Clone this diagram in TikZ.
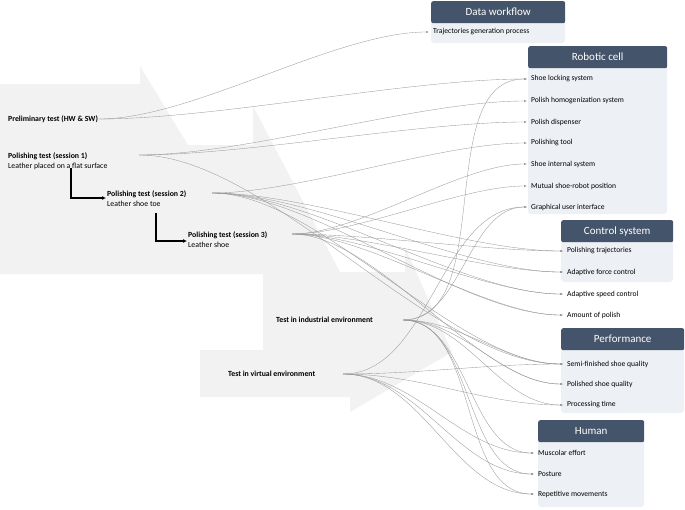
\documentclass[tikz,border=0pt]{standalone}
\usepackage{fontspec}
\setmainfont{Carlito}
\usetikzlibrary{arrows.meta}
\definecolor{slate}{HTML}{44546A}
\definecolor{pale}{HTML}{EDF0F5}
\definecolor{band}{HTML}{F2F2F2}
\tikzset{
  hdr/.style={fill=slate, rounded corners=2pt, text=white, font=\fontsize{11}{12}\selectfont, inner sep=0pt},
  body/.style={fill=pale, rounded corners=3pt},
  item/.style={anchor=west, font=\fontsize{7.6}{9}\selectfont, inner xsep=4pt, inner ysep=1pt},
  test/.style={anchor=west, align=left, font=\fontsize{7.8}{10}\selectfont, inner sep=1pt},
  link/.style={draw=gray!80, line width=0.35pt, -{Latex[length=3pt,width=2pt]}},
  nextstep/.style={draw=black, line width=1.2pt, -{Latex[length=4pt,width=4pt]}}
}
\begin{document}
\begin{tikzpicture}[x=1pt,y=-1pt]
\useasboundingbox (0,0) rectangle (685,509);
% grey process band
\fill[band] (0,84) -- (140,84) -- (140,66) -- (188,145) -- (253,145) -- (253,106)
  -- (340,272) -- (405,272) -- (405,247) -- (452,352) -- (350,412) -- (350,397)
  -- (200,397) -- (200,350) -- (263,350) -- (263,274) -- (0,274) -- cycle;

% boxes
\fill[body] (431,20) rectangle (565,43);
\node[hdr, minimum width=134pt, minimum height=22pt, anchor=north west] (hdw) at (431,1) {Data workflow};
\fill[body] (528,66) rectangle (667,214);
\node[hdr, minimum width=139pt, minimum height=22pt, anchor=north west] (hrc) at (528,46) {Robotic cell};
\fill[body] (561,240) rectangle (673,282);
\node[hdr, minimum width=112pt, minimum height=22pt, anchor=north west] (hcs) at (561,220) {Control system};
\fill[body] (561,348) rectangle (684,413);
\node[hdr, minimum width=123pt, minimum height=22pt, anchor=north west] (hpf) at (561,328) {Performance};
\fill[body] (538,440) rectangle (644,507);
\node[hdr, minimum width=106pt, minimum height=22pt, anchor=north west] (hhu) at (538,420) {Human};

% items
\node[item] (traj) at (429,32) {Trajectories generation process};
\node[item] (lock) at (527,79) {Shoe locking system};
\node[item] (homo) at (527,101) {Polish homogenization system};
\node[item] (disp) at (527,122) {Polish dispenser};
\node[item] (tool) at (527,143) {Polishing tool};
\node[item] (intl) at (527,164) {Shoe internal system};
\node[item] (mutu) at (527,186) {Mutual shoe-robot position};
\node[item] (gui)  at (527,207) {Graphical user interface};
\node[item] (ptra) at (563,251) {Polishing trajectories};
\node[item] (forc) at (563,272) {Adaptive force control};
\node[item] (sped) at (563,294) {Adaptive speed control};
\node[item] (amnt) at (563,315) {Amount of polish};
\node[item] (semi) at (563,364) {Semi-finished shoe quality};
\node[item] (polq) at (563,384) {Polished shoe quality};
\node[item] (proc) at (563,405) {Processing time};
\node[item] (musc) at (534,453) {Muscolar effort};
\node[item] (post) at (534,474) {Posture};
\node[item] (repe) at (534,494) {Repetitive movements};

% tests
\node[test] (pre) at (7,119) {\textbf{Preliminary test (HW \& SW)}};
\node[test] (s1) at (7,161) {\textbf{Polishing test (session 1)}\\Leather placed on a flat surface};
\node[test] (s2) at (106,199) {\textbf{Polishing test (session 2)}\\Leather shoe toe};
\node[test] (s3) at (187,240) {\textbf{Polishing test (session 3)}\\Leather shoe};
\node[test] (ind) at (275,320) {\textbf{Test in industrial environment}};
\node[test] (vir) at (227,374) {\textbf{Test in virtual environment}};
\coordinate (p1) at (139,155);
\coordinate (p2) at (212,193);
\coordinate (p3) at (292,234);
\coordinate (pi) at (403,320);
\coordinate (pv) at (343,374);

\draw[nextstep] (71,168) |- (s2.west|-0,198);
\draw[nextstep] (156,213) |- (s3.west|-0,241);

% links
\foreach \t in {traj,lock} {\draw[link] (pre.east) to[out=0,in=180,looseness=0.7] (\t.west);}
\foreach \t in {homo,disp,semi} {\draw[link] (p1) to[out=0,in=180,looseness=0.7] (\t.west);}
\foreach \t in {tool,ptra,forc,sped,amnt,semi} {\draw[link] (p2) to[out=0,in=180,looseness=0.7] (\t.west);}
\foreach \t in {intl,mutu,ptra,forc,sped,amnt,polq} {\draw[link] (p3) to[out=0,in=180,looseness=0.7] (\t.west);}
\foreach \t in {lock,gui,semi,polq,proc,musc,post,repe} {\draw[link] (pi) to[out=0,in=180,looseness=0.9] (\t.west);}
\foreach \t in {gui,semi,proc,musc,post,repe} {\draw[link] (pv) to[out=0,in=180,looseness=0.9] (\t.west);}
\end{tikzpicture}
\end{document}
